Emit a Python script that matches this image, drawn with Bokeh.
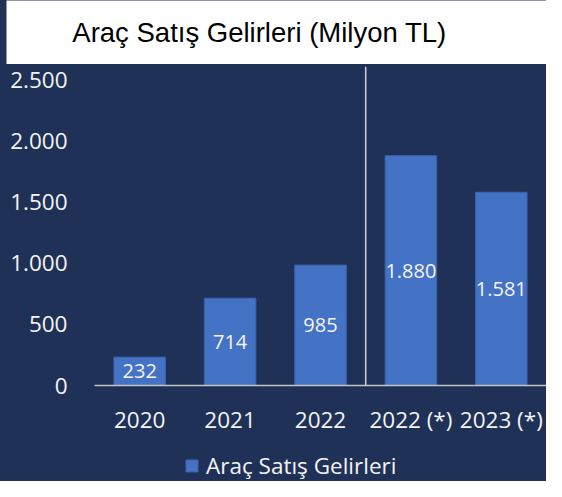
from bokeh.plotting import figure
from bokeh.models import (FactorRange, Range1d, FixedTicker, Span, Legend,
                          LegendItem, Label, ColumnDataSource)
from bokeh.layouts import column
from bokeh.embed import file_html
from bokeh.resources import INLINE
from bokeh.core.properties import value

# ---- data ----
title_text = "Araç Satış Gelirleri (Milyon TL)"
actual_years = ["2020", "2021", "2022"]
estimate_years = ["2022 (*)", "2023 (*)"]
categories = actual_years + estimate_years
revenues = [232, 714, 985, 1880, 1581]
y_ticks = [0, 500, 1000, 1500, 2000, 2500]
y_tick_labels = ["0", "500", "1.000", "1.500", "2.000", "2.500"]
series_name = "Araç Satış Gelirleri"

# ---- style ----
NAVY = "#1f3156"
BAR = "#4472c4"
BAR_EDGE = "#3a63ad"
FONT = "Open Sans"
W = 546
TITLE_H = 64
MAIN_H = 373
LEGEND_H = 44

common = dict(toolbar_location=None, output_backend="svg", outline_line_color=None)

# ---- title strip (white box with a thin navy stripe on the left) ----
tf = figure(width=W, height=TITLE_H, x_range=Range1d(0, W - 6), y_range=Range1d(0, TITLE_H),
            x_axis_location=None, y_axis_location=None,
            min_border_left=6, min_border_right=0, min_border_top=0, min_border_bottom=0,
            background_fill_color="white", border_fill_color=NAVY, **common)
tf.grid.visible = False
tf.add_layout(Label(x=253, y=32.5, text=title_text, text_font="Liberation Sans",
                    text_font_size="27.5px", text_align="center",
                    text_baseline="alphabetic", text_color="black"))

# ---- main chart ----
p = figure(width=W, height=MAIN_H, x_range=FactorRange(*categories), y_range=Range1d(0, 2610),
           min_border_left=94, min_border_right=0, min_border_top=2, min_border_bottom=52,
           background_fill_color=NAVY, border_fill_color=NAVY, **common)
p.grid.visible = False

source = ColumnDataSource(dict(
    cat=categories,
    val=revenues,
    mid=[v / 2 for v in revenues],
    lbl=[f"{v:,}".replace(",", ".") for v in revenues],
))
bars = p.vbar(x="cat", top="val", width=0.57, source=source,
              fill_color=BAR, line_color=BAR_EDGE, line_width=1)
p.text(x="cat", y="mid", text="lbl", source=source, text_align="center",
       text_baseline="middle", text_color="#f4f4f4", text_font=value(FONT),
       text_font_size="20px")

p.add_layout(Span(location=len(actual_years), dimension="height",
                  line_color="#d0d0d0", line_width=1.5))

p.yaxis.ticker = FixedTicker(ticks=y_ticks)
p.yaxis.major_label_overrides = dict(zip(y_ticks, y_tick_labels))
p.yaxis.axis_line_color = None
p.yaxis.major_tick_line_color = None
p.yaxis.minor_tick_line_color = None
p.yaxis.major_label_text_font = FONT
p.yaxis.major_label_text_font_size = "22.5px"
p.yaxis.major_label_text_color = "#f4f4f4"
p.yaxis.major_label_standoff = 21

p.xaxis.axis_line_color = "#c4c4c4"
p.xaxis.axis_line_width = 1.5
p.xaxis.major_tick_line_color = None
p.xaxis.minor_tick_line_color = None
p.xaxis.major_label_text_font = FONT
p.xaxis.major_label_text_font_size = "22.5px"
p.xaxis.major_label_text_color = "#f4f4f4"
p.xaxis.major_label_standoff = 12

# ---- legend strip ----
lf = figure(width=W, height=LEGEND_H, x_range=FactorRange(*categories), y_range=Range1d(0, 1),
            x_axis_location=None, y_axis_location=None,
            min_border_left=0, min_border_right=0, min_border_top=0, min_border_bottom=0,
            background_fill_color=NAVY, border_fill_color=NAVY, **common)
lf.grid.visible = False
proxy = lf.vbar(x="cat", top="val", width=0.57, source=source,
                fill_color=BAR, line_color=BAR_EDGE, line_width=1, visible=False)
legend = Legend(items=[LegendItem(label=series_name, renderers=[proxy])],
                location=(184, 0), orientation="horizontal", padding=0, margin=0,
                glyph_width=15, glyph_height=15, label_standoff=7,
                background_fill_alpha=0, border_line_color=None,
                label_text_color="#f4f4f4", label_text_font=FONT,
                label_text_font_size="22.5px")
lf.add_layout(legend, "center")

layout = column(column(tf), p, column(lf), spacing=0,
                styles={"background-color": NAVY})
open("out.html", "w").write(file_html(layout, INLINE))
